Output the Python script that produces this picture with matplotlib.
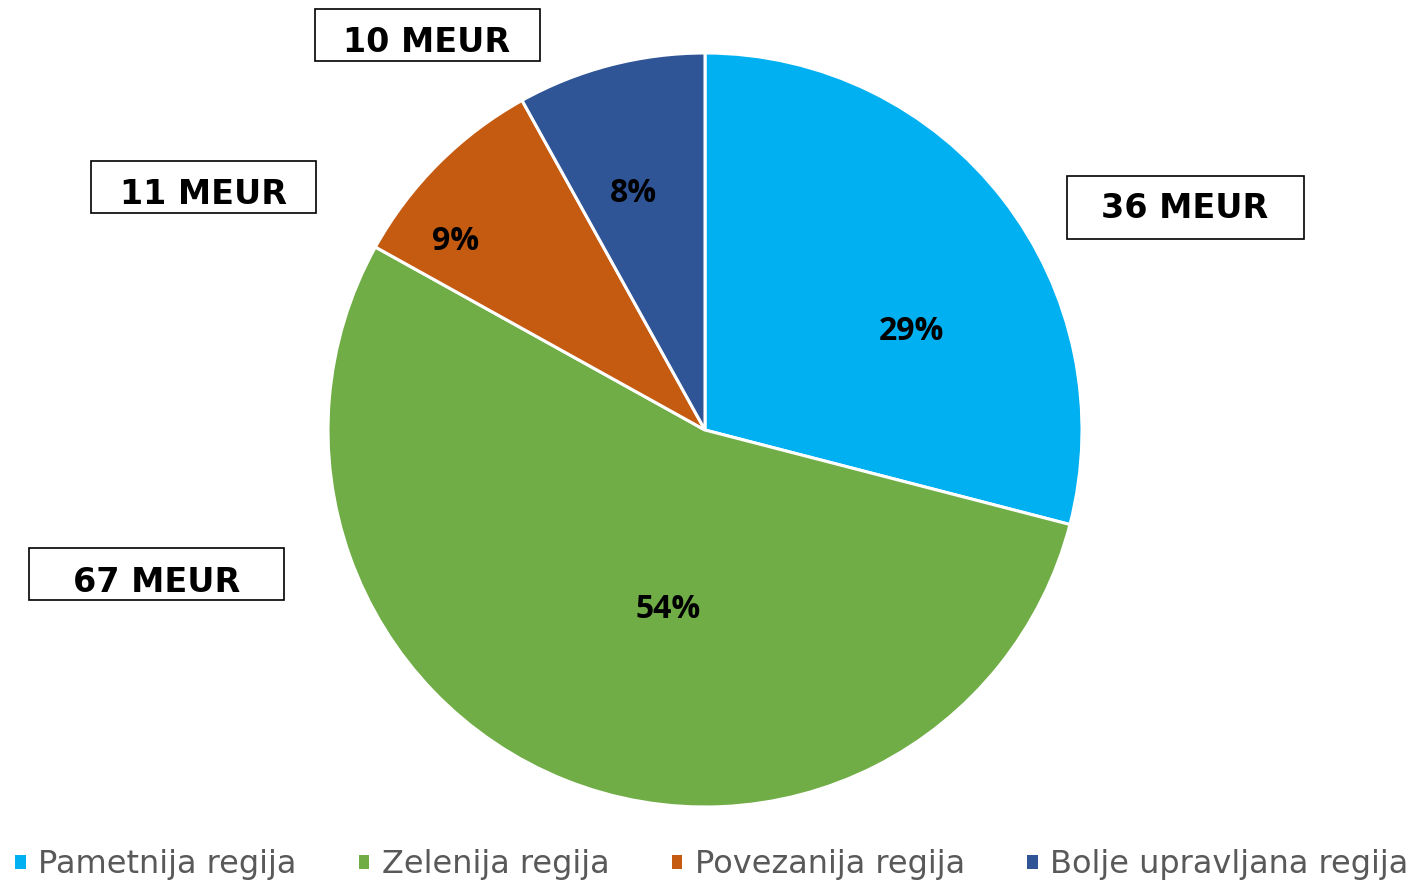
import matplotlib.pyplot as plt
from matplotlib.patches import Rectangle

# data
categories = ['Pametnija regija', 'Zelenija regija', 'Povezanija regija', 'Bolje upravljana regija']
values = [36, 67, 11, 10]
colors = ['#00B0F0', '#70AD47', '#C55A11', '#2F5597']
amount_labels = ['36 MEUR', '67 MEUR', '11 MEUR', '10 MEUR']

# layout in pixel coordinates (y measured from top)
pct_pos = [(912, 332), (668, 610), (456, 242), (633, 193)]
box_pos = [(1067, 176, 237, 63), (29, 548, 255, 52), (91, 161, 225, 52), (315, 9, 225, 52)]
box_text = [(1185, 208), (157, 582), (203, 194), (427, 43)]

W, H = 1414, 883
fig = plt.figure(figsize=(W / 100, H / 100), dpi=100)
ax = fig.add_axes([0, 0, 1, 1])
ax.set_xlim(0, W)
ax.set_ylim(0, H)
ax.set_aspect('equal')
ax.axis('off')

wedges, _ = ax.pie(values, colors=colors, startangle=90, counterclock=False,
                   center=(705, H - 430), radius=377,
                   wedgeprops=dict(edgecolor='white', linewidth=2.2))
ax.set_xlim(0, W)
ax.set_ylim(0, H)

total = sum(values)
for v, (x, y) in zip(values, pct_pos):
    ax.text(x, H - y, f'{round(v / total * 100)}%', ha='center', va='center',
            fontsize=23, fontweight='bold', family='Open Sans', color='black')

for lab, (bx, by, bw, bh), (tx, ty) in zip(amount_labels, box_pos, box_text):
    ax.add_patch(Rectangle((bx, H - by - bh), bw, bh, facecolor='white',
                           edgecolor='black', linewidth=1.2, zorder=3))
    ax.text(tx, H - ty, lab, ha='center', va='center', fontsize=24,
            fontweight='bold', color='black', zorder=4)

leg = ax.legend(wedges, categories, loc='center', bbox_to_anchor=(712 / W, 1 - 865 / H),
                ncol=4, frameon=False, fontsize=23, labelcolor='#595959',
                handlelength=0.32, handleheight=0.32, handletextpad=0.4,
                columnspacing=1.95)
for h in leg.legend_handles:
    h.set_edgecolor('none')

fig.savefig('out.png', dpi=100)
